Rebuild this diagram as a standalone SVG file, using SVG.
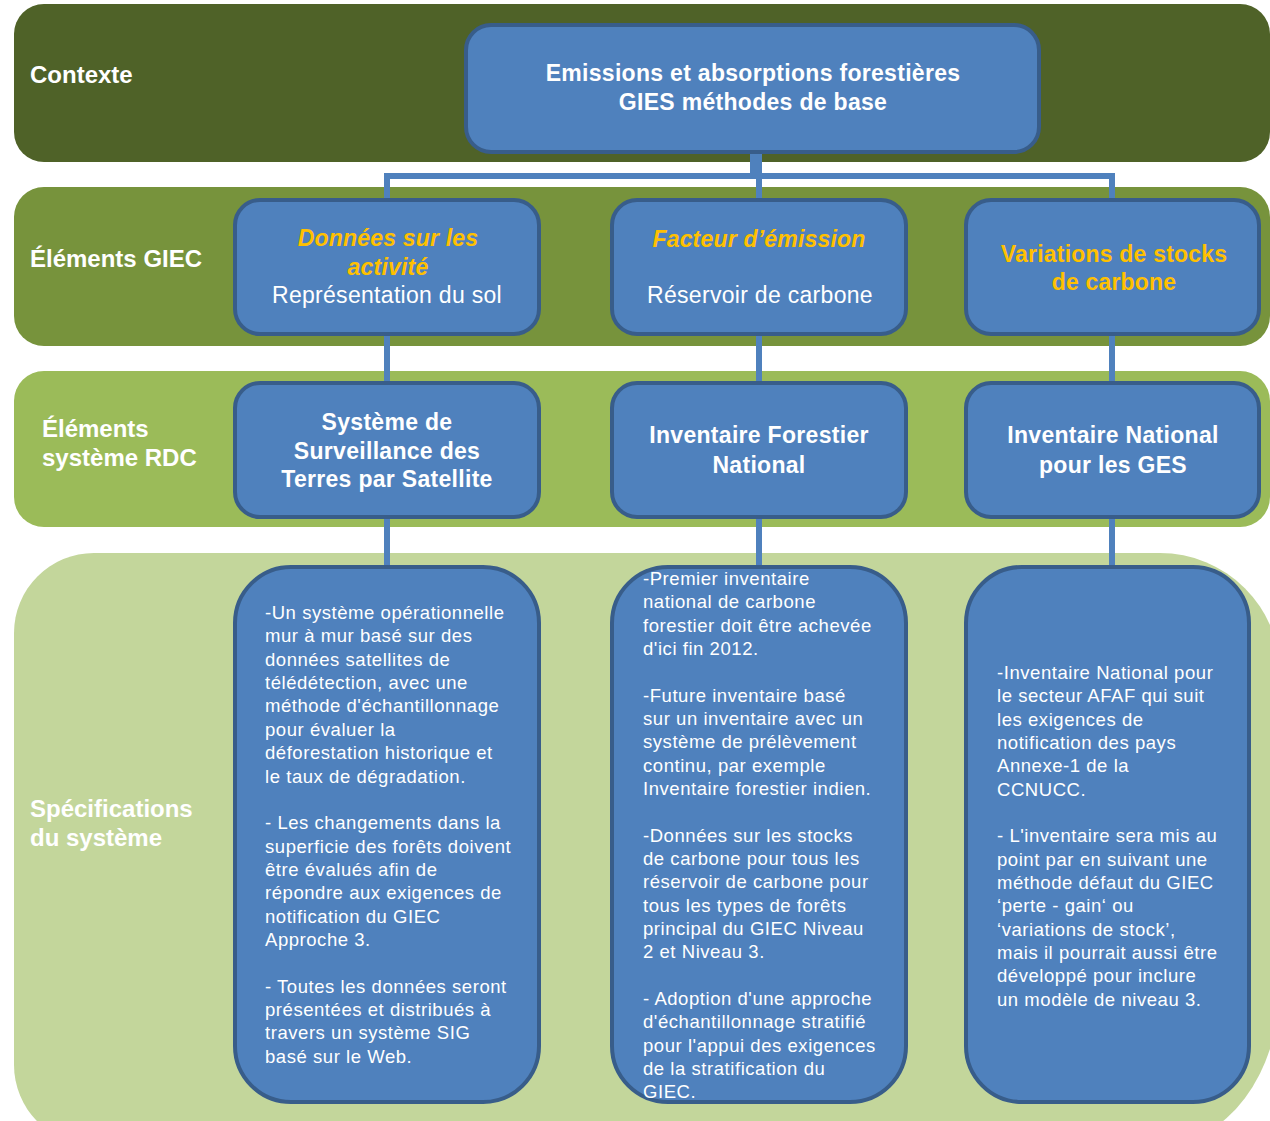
<svg xmlns="http://www.w3.org/2000/svg" width="1270" height="1121" viewBox="0 0 1270 1121">
<style>
.band-label{font-family:"Liberation Sans",Arial,sans-serif;font-weight:bold;font-size:24px;fill:#ffffff}
.box{fill:#4f81bd;stroke:#385d8a;stroke-width:4}
.title{font-family:"Liberation Sans",Arial,sans-serif;font-weight:bold;font-size:23px;fill:#ffffff;text-anchor:middle;letter-spacing:0.3px}
.gold{font-family:"Liberation Sans",Arial,sans-serif;font-weight:bold;font-size:23px;fill:#ffc000;text-anchor:middle;letter-spacing:0.2px}
.gi{font-style:italic}
.plain{font-family:"Liberation Sans",Arial,sans-serif;font-size:23px;fill:#ffffff;text-anchor:middle;letter-spacing:0.3px}
.body{font-family:"Liberation Sans",Arial,sans-serif;font-size:18.5px;fill:#ffffff;letter-spacing:0.55px}
.conn{stroke:#4f81bd;stroke-width:6;fill:none}
</style>
<rect width="1270" height="1121" fill="#ffffff"/>
<g id="bands">
<rect x="14" y="4" width="1256" height="158" rx="30" fill="#4f6228"/>
<rect x="14" y="187" width="1256" height="159" rx="30" fill="#77933c"/>
<rect x="14" y="371" width="1256" height="156" rx="30" fill="#9bbb59"/>
<path d="M14,633 A80,80 0 0 1 94,553 H1160 A120,120 0 0 1 1280,673 V985 A120,160 0 0 1 1160,1145 H94 A80,80 0 0 1 14,1065 Z" fill="#c3d69b"/>
<text class="band-label" x="30" y="83">Contexte</text>
<text class="band-label" x="30" y="267">Éléments GIEC</text>
<text class="band-label" x="42" y="437">Éléments</text>
<text class="band-label" x="42" y="466">système RDC</text>
<text class="band-label" x="30" y="817">Spécifications</text>
<text class="band-label" x="30" y="846">du système</text>
</g>
<g id="connectors">
<rect x="750" y="152" width="12" height="24" fill="#4f81bd"/>
<path class="conn" d="M387,199 V176 H1112 V199"/>
<path class="conn" d="M759,176 V199"/>
<path class="conn" d="M387,334 V382 M759,334 V382 M1112,334 V382"/>
<path class="conn" d="M387,518 V566 M759,518 V566 M1112,518 V566"/>
</g>
<g id="node-context">
<rect class="box" x="466" y="25" width="573" height="127" rx="25"/>
<text class="title" x="753" y="81">Emissions et absorptions forestières</text>
<text class="title" x="753" y="110">GIES méthodes de base</text>
</g>
<g id="node-donnees">
<rect class="box" x="235" y="200" width="304" height="134" rx="25"/>
<text class="gold gi" x="388" y="246">Données sur les</text>
<text class="gold gi" x="388" y="275">activité</text>
<text class="plain" x="387" y="303">Représentation du sol</text>
</g>
<g id="node-facteur">
<rect class="box" x="612" y="200" width="294" height="134" rx="25"/>
<text class="gold gi" x="759" y="247">Facteur d’émission</text>
<text class="plain" x="760" y="303">Réservoir de carbone</text>
</g>
<g id="node-variations">
<rect class="box" x="966" y="200" width="293" height="134" rx="25"/>
<text class="gold" x="1114" y="262">Variations de stocks</text>
<text class="gold" x="1114" y="290">de carbone</text>
</g>
<g id="node-sstps">
<rect class="box" x="235" y="383" width="304" height="134" rx="25"/>
<text class="title" x="387" y="430">Système de</text>
<text class="title" x="387" y="459">Surveillance des</text>
<text class="title" x="387" y="487">Terres par Satellite</text>
</g>
<g id="node-ifn">
<rect class="box" x="612" y="383" width="294" height="134" rx="25"/>
<text class="title" x="759" y="443">Inventaire Forestier</text>
<text class="title" x="759" y="473">National</text>
</g>
<g id="node-ges">
<rect class="box" x="966" y="383" width="293" height="134" rx="25"/>
<text class="title" x="1113" y="443">Inventaire National</text>
<text class="title" x="1113" y="473">pour les GES</text>
</g>
<g id="node-spec1">
<rect class="box" x="235" y="567" width="304" height="535" rx="56"/>
<text class="body" x="265">
<tspan x="265" y="619">-Un système opérationnelle</tspan>
<tspan x="265" y="642.4">mur à mur basé sur des</tspan>
<tspan x="265" y="665.7">données satellites de</tspan>
<tspan x="265" y="689.1">télédétection, avec une</tspan>
<tspan x="265" y="712.4">méthode d'échantillonnage</tspan>
<tspan x="265" y="735.8">pour évaluer la</tspan>
<tspan x="265" y="759.1">déforestation historique et</tspan>
<tspan x="265" y="782.5">le taux de dégradation.</tspan>
<tspan x="265" y="829.2">- Les changements dans la</tspan>
<tspan x="265" y="852.5">superficie des forêts doivent</tspan>
<tspan x="265" y="875.9">être évalués afin de</tspan>
<tspan x="265" y="899.2">répondre aux exigences de</tspan>
<tspan x="265" y="922.6">notification du GIEC</tspan>
<tspan x="265" y="945.9">Approche 3.</tspan>
<tspan x="265" y="992.6">- Toutes les données seront</tspan>
<tspan x="265" y="1016">présentées et distribués à</tspan>
<tspan x="265" y="1039.3">travers un système SIG</tspan>
<tspan x="265" y="1062.7">basé sur le Web.</tspan>
</text>
</g>
<g id="node-spec2">
<rect class="box" x="612" y="567" width="294" height="535" rx="56"/>
<text class="body" x="643">
<tspan x="643" y="585">-Premier inventaire</tspan>
<tspan x="643" y="608.3">national de carbone</tspan>
<tspan x="643" y="631.7">forestier doit être achevée</tspan>
<tspan x="643" y="655">d'ici fin 2012.</tspan>
<tspan x="643" y="701.7">-Future inventaire basé</tspan>
<tspan x="643" y="725">sur un inventaire avec un</tspan>
<tspan x="643" y="748.4">système de prélèvement</tspan>
<tspan x="643" y="771.7">continu, par exemple</tspan>
<tspan x="643" y="795">Inventaire forestier indien.</tspan>
<tspan x="643" y="841.7">-Données sur les stocks</tspan>
<tspan x="643" y="865">de carbone pour tous les</tspan>
<tspan x="643" y="888.4">réservoir de carbone pour</tspan>
<tspan x="643" y="911.7">tous les types de forêts</tspan>
<tspan x="643" y="935">principal du GIEC Niveau</tspan>
<tspan x="643" y="958.4">2 et Niveau 3.</tspan>
<tspan x="643" y="1005">- Adoption d'une approche</tspan>
<tspan x="643" y="1028.4">d'échantillonnage stratifié</tspan>
<tspan x="643" y="1051.7">pour l'appui des exigences</tspan>
<tspan x="643" y="1075">de la stratification du</tspan>
<tspan x="643" y="1098.4">GIEC.</tspan>
</text>
</g>
<g id="node-spec3">
<rect class="box" x="966" y="567" width="283" height="535" rx="56"/>
<text class="body" x="997">
<tspan x="997" y="679">-Inventaire National pour</tspan>
<tspan x="997" y="702.3">le secteur AFAF qui suit</tspan>
<tspan x="997" y="725.7">les exigences de</tspan>
<tspan x="997" y="749">notification des pays</tspan>
<tspan x="997" y="772.4">Annexe-1 de la</tspan>
<tspan x="997" y="795.7">CCNUCC.</tspan>
<tspan x="997" y="842.4">- L'inventaire sera mis au</tspan>
<tspan x="997" y="865.7">point par en suivant une</tspan>
<tspan x="997" y="889">méthode défaut du GIEC</tspan>
<tspan x="997" y="912.4">‘perte  - gain‘ ou</tspan>
<tspan x="997" y="935.7">‘variations de stock’,</tspan>
<tspan x="997" y="959">mais il pourrait aussi être</tspan>
<tspan x="997" y="982.4">développé pour inclure</tspan>
<tspan x="997" y="1005.7">un modèle de niveau 3.</tspan>
</text>
</g>
</svg>
